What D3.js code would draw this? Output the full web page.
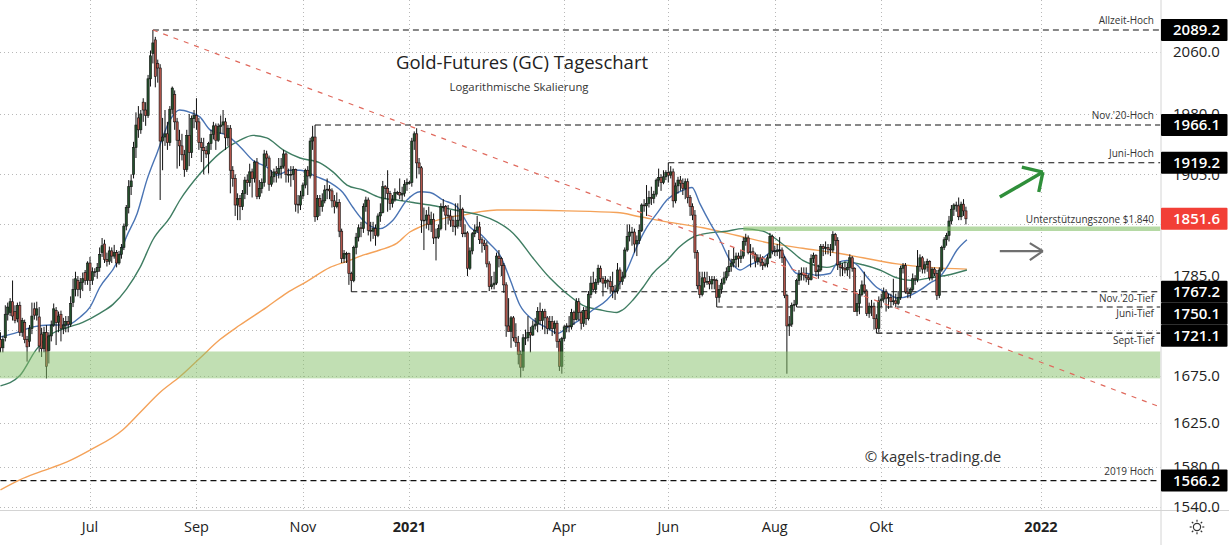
<!DOCTYPE html>
<html><head><meta charset="utf-8">
<script src="https://cdn.jsdelivr.net/npm/d3@7"></script>
<style>
body{margin:0;background:#fff;}
svg{display:block;font-family:"Open Sans","Noto Sans",sans-serif;}
</style>
</head><body>
<svg id="chart" width="1229" height="545"></svg>
<script>
// ---------- DATA ----------
const startDate = "2020-05-11"; // first bar, consecutive weekdays follow
// [open, high, low, close] per trading day, 2020-05-11 .. 2020-12-31
const candles2020 = [
[1714,1722,1700,1705],[1705,1718,1700,1714],[1716,1752,1712,1742],[1742,1755,1735,1750],[1744,1760,1740,1756],
[1756,1780,1735,1740],[1745,1752,1732,1735],[1737,1755,1733,1752],[1752,1756,1718,1722],[1722,1738,1717,1735],
[1733,1736,1710,1714],[1714,1718,1690,1706],[1712,1730,1706,1726],[1726,1755,1720,1740],[1748,1755,1736,1741],
[1741,1756,1735,1748],[1739,1750,1700,1707],[1720,1727,1695,1704],[1704,1728,1700,1722],[1722,1730,1672,1685],
[1702,1722,1688,1718],[1718,1735,1712,1730],[1730,1754,1728,1748],[1746,1750,1708,1733],[1733,1745,1722,1740],
[1742,1746,1712,1726],[1726,1738,1720,1730],[1730,1740,1722,1734],[1734,1740,1722,1731],[1731,1762,1728,1754],
[1755,1782,1750,1770],[1770,1790,1762,1782],[1780,1785,1762,1770],[1770,1783,1760,1778],[1778,1789,1768,1782],
[1789,1792,1775,1780],[1780,1802,1775,1800],[1800,1807,1768,1780],[1780,1795,1775,1790],[1790,1794,1784,1790],
[1790,1800,1782,1795],[1795,1818,1790,1810],[1812,1829,1807,1820],[1822,1827,1800,1804],[1804,1812,1796,1802],
[1802,1819,1798,1814],[1814,1818,1800,1808],[1808,1821,1805,1812],[1812,1815,1795,1800],[1800,1814,1798,1810],
[1810,1822,1805,1818],[1818,1846,1815,1843],[1843,1868,1838,1865],[1865,1898,1858,1890],[1890,1905,1880,1897],
[1905,1945,1900,1938],[1938,1982,1925,1966],[1975,1990,1950,1960],[1960,1985,1955,1980],[1995,2000,1970,1985],
[1985,1995,1965,1978],[1978,2030,1975,2025],[2025,2062,2015,2055],[2058,2089.2,2045,2072],[2076,2080,2014,2028],
[2045,2050,2020,2039],[2039,2044,1874,1946],[1946,1975,1910,1951],[1951,1985,1940,1955],[1955,1970,1935,1944],
[1944,1990,1940,1986],[1986,2015,1980,2013],[2005,2010,1960,1970],[1970,1975,1912,1947],[1947,1960,1915,1940],
[1940,1955,1922,1929],[1929,1935,1902,1911],[1911,1960,1908,1953],[1953,1980,1915,1932],[1932,1978,1925,1974],
[1974,1985,1962,1978],[1978,2000,1960,1970],[1970,1975,1935,1944],[1944,1950,1920,1938],[1938,1950,1905,1934],
[1934,1940,1925,1930],[1930,1945,1906,1943],[1943,1960,1935,1954],[1954,1970,1948,1965],[1965,1968,1935,1947],
[1947,1968,1945,1964],[1964,1978,1955,1966],[1966,1985,1955,1970],[1970,1975,1935,1950],[1950,1966,1940,1962],
[1962,1966,1882,1910],[1910,1915,1890,1900],[1900,1905,1855,1868],[1868,1882,1850,1876],[1876,1880,1850,1866],
[1866,1886,1862,1882],[1882,1902,1875,1898],[1898,1905,1880,1895],[1895,1918,1890,1908],[1908,1912,1877,1900],
[1900,1922,1895,1920],[1920,1925,1875,1878],[1878,1898,1875,1888],[1888,1900,1882,1895],[1895,1935,1890,1930],
[1930,1934,1915,1925],[1925,1928,1885,1893],[1893,1910,1890,1902],[1902,1912,1895,1908],[1908,1915,1895,1906],
[1906,1925,1900,1912],[1912,1925,1900,1915],[1915,1935,1912,1930],[1930,1932,1895,1905],[1905,1912,1895,1905],
[1905,1915,1890,1905],[1905,1915,1898,1911],[1911,1912,1860,1869],[1869,1880,1858,1868],[1868,1885,1862,1879],
[1879,1895,1875,1892],[1892,1912,1888,1910],[1910,1915,1880,1903],[1903,1950,1900,1946],[1946,1965,1935,1951],
[1951,1966.1,1848,1854],[1854,1880,1850,1876],[1876,1880,1855,1866],[1866,1882,1860,1873],[1873,1892,1870,1886],
[1886,1900,1875,1887],[1887,1892,1875,1885],[1885,1888,1865,1873],[1873,1880,1858,1866],[1866,1883,1864,1871],
[1871,1875,1830,1837],[1837,1840,1800,1805],[1805,1815,1800,1811],[1811,1813,1800,1811],[1811,1812,1775,1788],
[1788,1790,1767.2,1780],[1780,1820,1778,1818],[1818,1835,1810,1830],[1830,1845,1825,1841],[1841,1848,1830,1840],
[1840,1870,1835,1866],[1866,1878,1860,1874],[1874,1877,1832,1838],[1838,1848,1825,1837],[1837,1848,1828,1840],
[1840,1845,1820,1832],[1832,1858,1830,1855],[1855,1870,1848,1859],[1859,1897,1858,1890],[1890,1892,1875,1888],
[1888,1910,1860,1882],[1882,1885,1862,1870],[1870,1880,1865,1874],[1874,1888,1872,1883],[1883,1885,1880,1883],
[1883,1900,1875,1880],[1880,1890,1873,1882],[1882,1898,1878,1893],[1893,1900,1885,1895],[1895,1897,1893,1895]
];
// 2021-01-01 .. 2021-11-19
const candles2021 = [
[1895,1950,1890,1946],[1946,1958,1935,1955],[1955,1962,1900,1919],[1919,1925,1905,1913],[1913,1915,1835,1850],
[1850,1865,1815,1850],[1850,1862,1840,1856],[1856,1866,1838,1845],[1845,1860,1836,1851],[1851,1858,1822,1829],
[1829,1840,1803,1830],[1830,1845,1828,1840],[1840,1870,1838,1866],[1866,1875,1860,1866],[1866,1868,1838,1856],
[1856,1868,1845,1855],[1855,1862,1842,1850],[1850,1855,1836,1843],[1843,1870,1832,1843],[1843,1870,1840,1850],
[1850,1880,1842,1863],[1863,1865,1830,1834],[1834,1845,1830,1835],[1835,1837,1785,1794],[1794,1818,1792,1814],
[1814,1836,1810,1834],[1834,1845,1830,1838],[1838,1855,1835,1842],[1842,1848,1822,1827],[1827,1830,1812,1823],
[1823,1827,1815,1820],[1820,1825,1795,1799],[1799,1802,1768,1773],[1773,1785,1770,1775],[1775,1790,1770,1777],
[1777,1812,1775,1808],[1808,1815,1795,1805],[1805,1807,1785,1797],[1797,1800,1766,1775],[1775,1778,1717,1729],
[1729,1760,1723,1723],[1723,1740,1705,1738],[1738,1740,1712,1716],[1716,1732,1706,1711],[1711,1718,1687,1698],
[1698,1702,1673,1684],[1684,1720,1680,1716],[1716,1725,1708,1716],[1716,1740,1712,1722],[1722,1728,1700,1719],
[1719,1735,1718,1729],[1729,1738,1725,1731],[1731,1750,1722,1745],[1745,1755,1730,1735],[1735,1748,1725,1745],
[1745,1748,1720,1738],[1738,1740,1720,1726],[1726,1740,1724,1734],[1734,1740,1718,1726],[1726,1735,1720,1732],
[1732,1735,1705,1712],[1712,1715,1680,1685],[1685,1717,1677,1715],[1715,1730,1712,1728],[1728,1732,1722,1729],
[1729,1740,1722,1728],[1728,1748,1725,1744],[1744,1746,1730,1736],[1736,1760,1735,1756],[1756,1760,1735,1744],
[1744,1746,1725,1732],[1732,1750,1728,1746],[1746,1750,1730,1737],[1737,1768,1735,1764],[1764,1785,1760,1777],
[1777,1790,1768,1770],[1770,1782,1765,1778],[1778,1798,1775,1794],[1794,1797,1778,1782],[1782,1785,1762,1777],
[1777,1785,1772,1780],[1780,1782,1770,1779],[1779,1785,1765,1773],[1773,1790,1760,1768],[1768,1775,1758,1768],
[1768,1800,1765,1792],[1792,1795,1770,1779],[1779,1790,1775,1784],[1784,1818,1782,1815],[1815,1845,1813,1831],
[1831,1845,1825,1836],[1836,1842,1820,1836],[1836,1840,1812,1822],[1822,1832,1808,1826],[1826,1845,1822,1838],
[1838,1870,1836,1868],[1868,1875,1860,1867],[1867,1892,1855,1870],[1870,1885,1865,1877],[1877,1890,1868,1876],
[1876,1885,1870,1881],[1881,1900,1878,1898],[1898,1912,1890,1901],[1901,1905,1885,1895],[1895,1910,1893,1902],
[1902,1910,1898,1907],[1907,1919.2,1895,1904],[1904,1915,1900,1908],[1908,1912,1865,1873],[1873,1895,1870,1891],
[1891,1902,1882,1898],[1898,1903,1885,1894],[1894,1900,1880,1888],[1888,1900,1875,1896],[1896,1900,1870,1877],
[1877,1880,1855,1866],[1866,1870,1850,1856],[1856,1862,1805,1812],[1812,1815,1770,1774],[1774,1790,1760,1764],
[1764,1790,1762,1783],[1783,1790,1772,1778],[1778,1790,1775,1779],[1779,1785,1770,1776],[1776,1785,1770,1781],
[1781,1785,1770,1780],[1780,1782,1750.1,1761],[1761,1775,1755,1770],[1770,1782,1765,1777],[1777,1790,1775,1783],
[1783,1795,1780,1790],[1790,1815,1785,1796],[1796,1805,1790,1800],[1800,1818,1795,1804],[1804,1812,1795,1808],
[1808,1812,1795,1805],[1805,1815,1800,1808],[1808,1830,1805,1825],[1825,1834,1820,1829],[1829,1832,1810,1812],
[1812,1822,1795,1813],[1813,1818,1805,1810],[1810,1812,1795,1802],[1802,1810,1798,1806],[1806,1810,1796,1801],
[1801,1808,1792,1797],[1797,1805,1795,1799],[1799,1810,1795,1806],[1806,1835,1805,1831],[1831,1833,1810,1814],
[1814,1820,1808,1813],[1813,1822,1808,1815],[1815,1830,1805,1815],[1815,1818,1800,1806],[1806,1808,1760,1763],
[1763,1765,1677,1729],[1729,1740,1718,1731],[1731,1755,1728,1752],[1752,1758,1745,1753],[1753,1782,1750,1780],
[1780,1792,1775,1787],[1787,1795,1780,1788],[1788,1795,1780,1786],[1786,1795,1778,1783],[1783,1787,1775,1781],
[1781,1810,1780,1805],[1805,1812,1800,1809],[1809,1810,1785,1790],[1790,1798,1782,1792],[1792,1822,1790,1819],
[1819,1822,1808,1817],[1817,1825,1810,1818],[1818,1822,1810,1816],[1816,1822,1808,1815],[1815,1837,1812,1833],
[1833,1835,1820,1826],[1826,1830,1792,1798],[1798,1802,1785,1795],[1795,1800,1785,1794],[1794,1802,1788,1792],
[1792,1800,1785,1795],[1795,1810,1782,1806],[1806,1808,1790,1794],[1794,1795,1745,1745],[1745,1765,1740,1754],
[1754,1770,1742,1764],[1764,1780,1762,1775],[1775,1790,1765,1768],[1768,1770,1740,1743],[1743,1755,1738,1751],
[1751,1758,1740,1751],[1751,1755,1725,1737],[1737,1742,1721.1,1726],[1726,1762,1722,1757],[1757,1765,1750,1759],
[1759,1772,1755,1767],[1767,1770,1745,1760],[1760,1765,1748,1761],[1761,1765,1750,1756],[1756,1782,1752,1757],
[1757,1765,1750,1754],[1754,1768,1752,1761],[1761,1797,1758,1794],[1794,1800,1788,1797],[1797,1800,1765,1767],
[1767,1772,1760,1765],[1765,1772,1760,1770],[1770,1788,1768,1782],[1782,1786,1775,1781],[1781,1815,1778,1796],
[1796,1810,1790,1806],[1806,1808,1788,1793],[1793,1802,1788,1798],[1798,1805,1790,1802],[1802,1803,1780,1783],
[1783,1795,1780,1793],[1793,1795,1785,1788],[1788,1792,1758,1763],[1763,1795,1760,1792],[1792,1820,1790,1818],
[1818,1830,1815,1827],[1827,1835,1820,1832],[1832,1855,1825,1849],[1849,1868,1845,1863],[1863,1870,1855,1868],
[1868,1872,1860,1867],[1867,1877,1850,1854],[1854,1872,1850,1869],[1869,1875,1855,1861],[1861,1866,1845,1851.6]
];
// moving averages: [bar index, price]
const maFast = [[0,1717],[7,1722],[13.5,1728],[20.5,1730],[27.5,1730],[33,1739],[37,1750],[41,1772],[48,1800],[52,1830],[56.5,1858],[60.5,1898],[64.7,1931],[70,1972],[74,1985],[78.3,1982],[82.5,1976],[86.6,1960],[93.6,1953],[99,1939],[104.4,1922],[110,1914],[114.3,1904],[119.6,1910],[123.8,1910],[130.8,1902],[136.2,1895],[141.5,1883],[145.7,1865],[149.8,1850],[156.8,1840],[162.2,1850],[168,1874],[173.4,1884],[177.5,1883],[182.9,1874],[188.7,1866],[194,1842],[198.2,1834],[202.3,1822],[206.4,1809],[210.5,1782],[214.7,1752],[220,1736],[225.8,1727],[230.4,1721],[234.1,1727],[239.5,1736],[244.9,1747],[250.6,1758],[254.8,1772],[258.9,1792],[263,1819],[267.2,1842],[271.3,1858],[275.4,1874],[280.8,1884],[285.8,1889],[289,1870],[293.2,1847],[297.3,1827],[301.5,1803],[305.6,1792],[309.7,1798],[313.9,1803],[318,1812],[322.1,1815],[325,1803],[329.2,1788],[333.3,1788],[337.4,1786],[342.8,1788],[345.7,1800],[349.8,1803],[353.9,1798],[358.1,1784],[362.2,1772],[366.3,1766],[370.9,1760],[375.9,1763],[380,1769],[384.1,1777],[388.2,1784],[391.1,1795],[395.3,1815],[399.4,1827]];
const maMid = [[0,1664],[8,1675],[14.5,1702],[20.5,1719],[27.5,1727],[34,1733],[41,1743],[46.5,1753],[52,1770],[57.7,1795],[63,1827],[70,1853],[74.2,1874],[82.5,1906],[90.7,1931],[99,1947],[104.4,1953],[110,1950],[116.8,1935],[123.8,1925],[132,1919],[137.4,1908],[143.2,1892],[149.8,1886],[156.8,1877],[163.9,1874],[170.5,1871],[177.5,1868],[184.5,1864],[191.1,1860],[198.2,1856],[205.2,1848],[210.5,1838],[213.4,1830],[220,1806],[227,1783],[234.1,1765],[240.7,1752],[247.7,1747],[254.8,1744],[257.2,1747],[261.4,1758],[265.5,1772],[269.6,1788],[275.4,1803],[280.8,1819],[286.2,1830],[293.2,1835],[300.2,1837],[306.8,1840],[315.1,1837],[320.9,1827],[326.3,1815],[331.6,1803],[335.8,1798],[341.5,1795],[345.7,1798],[349.8,1801],[356.4,1798],[363.4,1792],[370.5,1783],[377.1,1780],[384.1,1783],[391.1,1786],[399.4,1792]];
const maSlow = [[0,1557],[8,1567],[16.3,1575],[27.5,1585],[37,1597],[50.6,1618],[57.7,1636],[65.9,1657],[74.2,1674],[82.5,1694],[90.7,1714],[99,1730],[110.1,1750],[118.4,1766],[126.7,1779],[136.2,1795],[143.2,1802],[149.8,1809],[156.8,1815],[163.9,1823],[169.2,1836],[173.4,1842],[177.5,1847],[184.5,1853],[191.1,1856],[198.2,1860],[205.2,1862],[210.5,1862],[234.1,1861],[254.8,1859],[264.3,1854],[275.4,1848],[290.3,1841],[304.4,1832],[318,1823],[331.6,1817],[346.9,1811],[356.4,1806],[370.5,1799],[384.1,1795],[399.4,1793]];

const yTicks = [2060,1980,1905,1845,1785,1725,1675,1625,1580,1540];
const monthLabels = ["Jul","Sep","Nov","2021","Apr","Jun","Aug","Okt","2022"];
const monthDates = ["2020-07-01","2020-09-01","2020-11-02","2021-01-01","2021-04-01","2021-06-01","2021-08-02","2021-10-01","2022-01-03"];
const monthBold = [false,false,false,true,false,false,false,false,true];

const levelNames  = ["Allzeit-Hoch","Nov.'20-Hoch","Juni-Hoch","Nov.'20-Tief","Juni-Tief","Sept-Tief","2019 Hoch"];
const levelValues = [2089.2,1966.1,1919.2,1767.2,1750.1,1721.1,1566.2];
const levelStarts = ["2020-08-06","2020-11-09","2021-06-01","2020-11-30","2021-06-29","2021-09-29","2020-05-11"];
const levelBelow  = [false,false,false,true,true,true,false];

const lastPrice = 1851.6;
const supportValue = 1840, supportStart = "2021-07-14", supportLabel = "Unterstützungszone $1.840";
const zoneLow = 1672, zoneHigh = 1701;
const trendStart = [63, 2089.2], trendEnd = [478.3, 1642.7];
const arrowUp = [[413,1877.5],[430.8,1907.8]], arrowUpHead = [[422.1,1913.9],[429.1,1883.6]];
const arrowSide = [[413,1813.8],[430.8,1813.8]], arrowSideHead = [[425.4,1823.1],[425.4,1803.4]];

// ---------- SETUP ----------
const W = 1229, H = 545, plotR = 1160.5, axisY = 510;
const svg = d3.select("#chart");
const bars = candles2020.concat(candles2021).map((d,i)=>({i,o:d[0],h:d[1],l:d[2],c:d[3]}));

const t0 = Date.parse(startDate+"T00:00:00Z");
function idxOf(ds){
  const t = Date.parse(ds+"T00:00:00Z"); let n=0;
  for(let d=t0; d<t; d+=864e5){ const wd=new Date(d).getUTCDay(); if(wd!==0&&wd!==6) n++; }
  return n;
}
const x = d3.scaleLinear().domain([0,479.2]).range([0.46,1160]);
const y = d3.scaleLog().domain([1540,2060]).range([507,52]);

svg.append("defs").append("clipPath").attr("id","plot").append("rect")
  .attr("x",0).attr("y",0).attr("width",plotR).attr("height",axisY);

const gGrid = svg.append("g");
gGrid.selectAll("line.h").data(yTicks).join("line")
  .attr("x1",0).attr("x2",plotR).attr("y1",d=>Math.round(y(d))+0.5).attr("y2",d=>Math.round(y(d))+0.5)
  .attr("stroke","#b8b8b8").attr("stroke-dasharray","1,3").attr("stroke-width",1);
const monthIdx = monthDates.map(idxOf);
gGrid.selectAll("line.v").data(monthIdx).join("line")
  .attr("x1",d=>Math.round(x(d))+0.5).attr("x2",d=>Math.round(x(d))+0.5).attr("y1",0).attr("y2",axisY)
  .attr("stroke","#b8b8b8").attr("stroke-dasharray","1,3").attr("stroke-width",1);

const gPlot = svg.append("g").attr("clip-path","url(#plot)");

levelValues.forEach((v,k)=>{
  gPlot.append("line").attr("x1",x(idxOf(levelStarts[k]))).attr("x2",plotR)
    .attr("y1",y(v)).attr("y2",y(v)).attr("stroke","#111").attr("stroke-width",1.1)
    .attr("stroke-dasharray","6,4");
});

const maLine = d3.line().x(d=>x(d[0])).y(d=>y(d[1])).curve(d3.curveMonotoneX);
gPlot.append("path").datum(maSlow).attr("d",maLine).attr("fill","none").attr("stroke","#f4a259").attr("stroke-width",1.4);
gPlot.append("path").datum(maMid).attr("d",maLine).attr("fill","none").attr("stroke","#3f7d62").attr("stroke-width",1.4);
gPlot.append("path").datum(maFast).attr("d",maLine).attr("fill","none").attr("stroke","#4a74b4").attr("stroke-width",1.4);

const gC = gPlot.append("g");
gC.selectAll("line").data(bars).join("line")
  .attr("x1",d=>x(d.i)).attr("x2",d=>x(d.i)).attr("y1",d=>y(d.h)).attr("y2",d=>y(d.l))
  .attr("stroke","#111").attr("stroke-width",1);
gC.selectAll("rect").data(bars).join("rect")
  .attr("x",d=>x(d.i)-1.1).attr("width",2.2)
  .attr("y",d=>y(Math.max(d.o,d.c)))
  .attr("height",d=>Math.max(0.8,Math.abs(y(d.o)-y(d.c))))
  .attr("fill",d=>d.c>=d.o?"#24512c":"#b3554b").attr("stroke","#111").attr("stroke-width",0.6);

gPlot.append("rect").attr("x",0).attr("width",plotR).attr("y",y(zoneHigh)).attr("height",y(zoneLow)-y(zoneHigh))
  .attr("fill","rgb(132,192,104)").attr("opacity",0.5);
gPlot.append("line").attr("x1",x(idxOf(supportStart))).attr("x2",plotR).attr("y1",y(supportValue)).attr("y2",y(supportValue))
  .attr("stroke","rgb(132,192,104)").attr("stroke-opacity",0.6).attr("stroke-width",4.5);

gPlot.append("line").attr("x1",x(trendStart[0])).attr("y1",y(trendStart[1]))
  .attr("x2",x(trendEnd[0])).attr("y2",y(trendEnd[1]))
  .attr("stroke","#e06a5e").attr("stroke-width",1.2).attr("stroke-dasharray","5,6");

function arrow(shaft, head, color, w){
  const g = gPlot.append("g").attr("stroke",color).attr("stroke-width",w).attr("fill","none");
  g.append("line").attr("x1",x(shaft[0][0])).attr("y1",y(shaft[0][1])).attr("x2",x(shaft[1][0])).attr("y2",y(shaft[1][1]));
  head.forEach(p=>g.append("line").attr("x1",x(shaft[1][0])).attr("y1",y(shaft[1][1])).attr("x2",x(p[0])).attr("y2",y(p[1])));
}
arrow(arrowUp, arrowUpHead, "#2f8f3a", 3.4);
arrow(arrowSide, arrowSideHead, "#6f6f6f", 2.2);

levelValues.forEach((v,k)=>{
  svg.append("text").attr("x",1154).attr("y",levelBelow[k]? y(v)+10.5 : y(v)-5.5)
    .attr("text-anchor","end").attr("font-size",10).attr("fill","#333").text(levelNames[k]);
});
svg.append("text").attr("x",1154).attr("y",y(supportValue)-6).attr("text-anchor","end")
  .attr("font-size",10).attr("fill","#333").text(supportLabel);

svg.append("text").attr("x",522).attr("y",69).attr("text-anchor","middle").attr("font-size",18.5).attr("fill","#222").text("Gold-Futures (GC) Tageschart");
svg.append("text").attr("x",519).attr("y",91).attr("text-anchor","middle").attr("font-size",11.3).attr("fill","#333").text("Logarithmische Skalierung");
svg.append("text").attr("x",933).attr("y",462).attr("text-anchor","middle").attr("font-size",15).attr("fill","#333").text("© kagels-trading.de");

svg.append("line").attr("x1",0).attr("x2",W).attr("y1",axisY+0.5).attr("y2",axisY+0.5).attr("stroke","#d4d4d4");
svg.append("line").attr("x1",plotR+0.5).attr("x2",plotR+0.5).attr("y1",0).attr("y2",H).attr("stroke","#d4d4d4");

// price boxes (stacked so they do not overlap)
const boxes = levelValues.map(v=>({v,fill:"#000"})).concat([{v:lastPrice,fill:"#f23f36"}])
  .sort((a,b)=>b.v-a.v);
let prev = -1e9;
boxes.forEach(b=>{ b.cy = Math.max(y(b.v), prev+22); prev = b.cy; });

// y tick labels (those fully covered by a price box are hidden, as in the original)
const visibleTicks = yTicks.filter(t=>!boxes.some(b=>Math.abs(b.cy-y(t))<8));
svg.selectAll("text.yt").data(visibleTicks).join("text").attr("class","yt")
  .attr("x",1173).attr("y",d=>y(d)).attr("dy","0.36em").attr("font-size",15).attr("fill","#222")
  .text(d=>d3.format(".1f")(d));

svg.selectAll("text.xt").data(monthLabels).join("text").attr("class","xt")
  .attr("x",(d,k)=>x(monthIdx[k])).attr("y",532).attr("text-anchor","middle").attr("font-size",14.5)
  .attr("font-weight",(d,k)=>monthBold[k]?700:400).attr("fill","#222").text(d=>d);

const gB = svg.append("g");
boxes.forEach(b=>{
  gB.append("rect").attr("x",plotR+0.5).attr("y",b.cy-11).attr("width",W-plotR-2).attr("height",22).attr("fill",b.fill).attr("rx",1);
  gB.append("text").attr("x",1173).attr("y",b.cy).attr("dy","0.36em").attr("font-size",15).attr("font-weight",600)
    .attr("fill","#fff").text(d3.format(".1f")(b.v));
});

const gi = svg.append("g").attr("transform","translate(1197,527)").attr("stroke","#333").attr("stroke-width",1.2).attr("fill","none");
gi.append("circle").attr("r",3.6);
d3.range(8).forEach(k=>{const a=k*Math.PI/4; gi.append("line").attr("x1",5.3*Math.cos(a)).attr("y1",5.3*Math.sin(a)).attr("x2",7.3*Math.cos(a)).attr("y2",7.3*Math.sin(a));});
</script>
</body></html>
